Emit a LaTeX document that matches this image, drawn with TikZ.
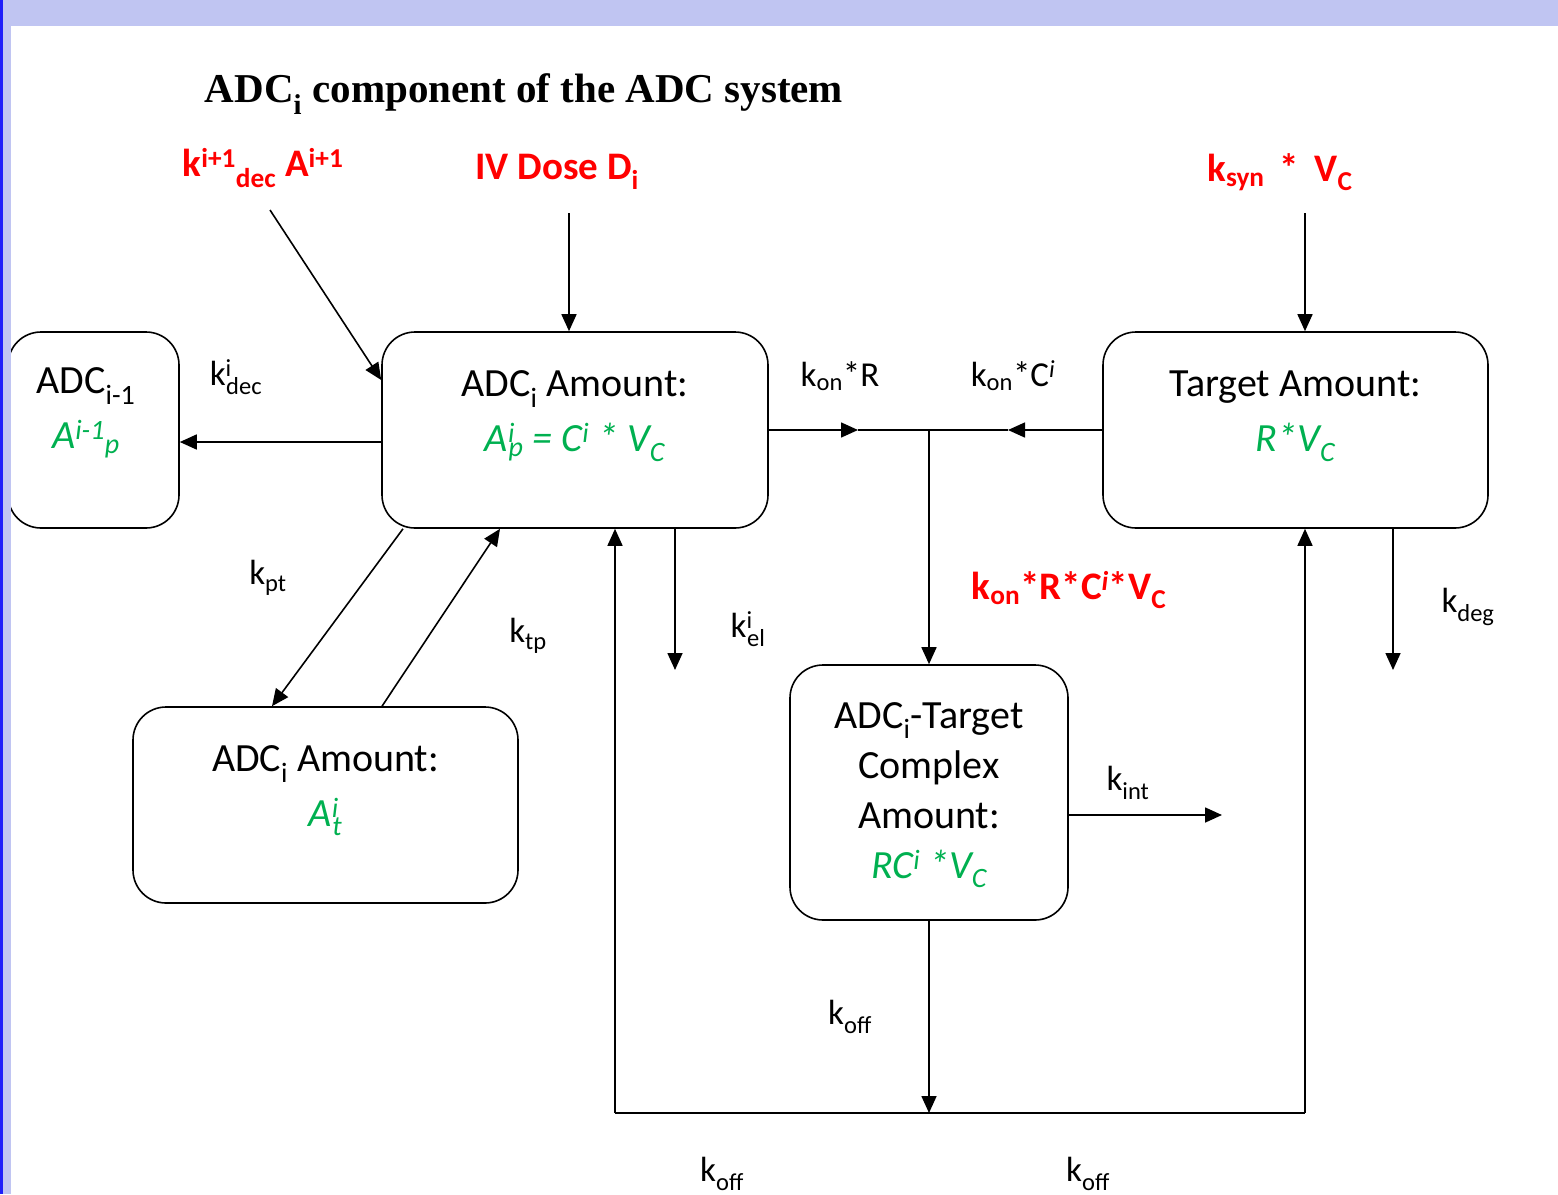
\documentclass[tikz,border=0pt]{standalone}
\usepackage{fontspec}
\setmainfont{Carlito}
\newfontfamily\titlefont{Liberation Serif}
\usetikzlibrary{arrows.meta}
\definecolor{bandlav}{RGB}{192,197,242}
\definecolor{bandblue}{RGB}{30,30,250}
\definecolor{amtgreen}{RGB}{0,176,80}
\definecolor{doser}{RGB}{255,0,0}
\newcommand\supsub[2]{\textsuperscript{\rlap{#1}}\textsubscript{#2}}
\tikzset{
  compart/.style={draw, line width=1.6pt, rounded corners=33pt, inner sep=0pt},
  flow/.style={line width=1.6pt, -{Triangle[length=17pt,width=15pt]}},
  link/.style={line width=1.6pt},
  rate/.style={font=\fontsize{35}{40}\selectfont},
  input/.style={text=doser, font=\fontsize{39}{44}\selectfont\bfseries},
  amt/.style={font=\fontsize{40}{55}\selectfont, align=center},
}
\begin{document}
\begin{tikzpicture}[x=1pt, y=-1pt]
    \useasboundingbox (0,0) rectangle (1558,1194);
    \node[font=\titlefont\fontsize{41}{50}\selectfont\bfseries] (title) at (524,94) {ADC\textsubscript{i} component of the ADC system};

    % compartments
    \node[compart, minimum width=171pt, minimum height=196pt] (prev) at (93.5,430) {};
    \node[compart, minimum width=386pt, minimum height=196pt] (main) at (575,430) {};
    \node[compart, minimum width=385pt, minimum height=196pt] (target) at (1295.5,430) {};
    \node[compart, minimum width=385pt, minimum height=196pt] (tissue) at (325.5,805) {};
    \node[compart, minimum width=278pt, minimum height=255pt] (complex) at (929,792.5) {};

    \node[amt] (prevTxt) at (86,413) {ADC\textsubscript{i-1}\\ \color{amtgreen}\itshape A\textsuperscript{i-1}\textsubscript{p}};
    \node[amt] (mainTxt) at (575,416) {ADC\textsubscript{i} Amount:\\ \color{amtgreen}\itshape A\supsub{i}{p} = C\textsuperscript{i} * V\textsubscript{C}};
    \node[amt] (targetTxt) at (1295.5,416) {Target Amount:\\ \color{amtgreen}\itshape R*V\textsubscript{C}};
    \node[amt] (tissueTxt) at (325.5,791) {ADC\textsubscript{i} Amount:\\ \color{amtgreen}\itshape A\supsub{i}{t}};
    \node[amt, font=\fontsize{40}{50}\selectfont] (complexTxt) at (929,795) {ADC\textsubscript{i}-Target\\Complex\\Amount:\\ \color{amtgreen}\itshape RC\textsuperscript{i} *V\textsubscript{C}};

    % inputs
    \node[input] (decIn) at (263,168) {k\textsuperscript{i+1}\textsubscript{dec} A\textsuperscript{i+1}};
    \node[input] (dose) at (557,172) {IV Dose D\textsubscript{i}};
    \node[input] (syn) at (1280,172) {k\textsubscript{syn} \,*\, V\textsubscript{C}};
    \node[input] (bind) at (1069,590) {k\textsubscript{on}*R*C\textsuperscript{\itshape i}*V\textsubscript{C}};
    \coordinate (decSrc) at (270,210);
    \coordinate (doseSrc) at (569,213);
    \coordinate (synSrc) at (1305,213);
    \draw[flow] (decSrc) -- ([yshift=50pt]main.west);
    \draw[flow] (doseSrc) -- (doseSrc |- main.north);
    \draw[flow] (synSrc) -- (synSrc |- target.north);

    % decay to previous
    \draw[flow] ([yshift=-12pt]main.west) -- ([yshift=-12pt]prev.east);
    \node[rate] (kdec) at (236,377) {k\supsub{i}{dec}};

    % binding
    \coordinate (junc) at (complex.north |- main.east);
    \coordinate (onR) at (858,430);
    \coordinate (onC) at (1008,430);
    \draw[flow] (main.east) -- (onR);
    \draw[link] (onR) -- (onC);
    \draw[flow] (target.west) -- (onC);
    \draw[flow] (junc) -- (complex.north);
    \node[rate] (konR) at (840,376) {k\textsubscript{on}*R};
    \node[rate] (konC) at (1013,376) {k\textsubscript{on}*C\textsuperscript{\itshape i}};

    % distribution
    \draw[flow] ([xshift=-172pt]main.south) -- ([xshift=-53.5pt]tissue.north);
    \draw[flow] ([xshift=56.5pt]tissue.north) -- ([xshift=-75pt]main.south);
    \node[rate] (kpt) at (268,578) {k\textsubscript{pt}};
    \node[rate] (ktp) at (528,636) {k\textsubscript{tp}};

    % elimination
    \coordinate (elOut) at (675,670);
    \draw[flow] (elOut |- main.south) -- (elOut);
    \node[rate] (kel) at (748,629) {k\supsub{i}{el}};
    \coordinate (degOut) at (1393,670);
    \draw[flow] (degOut |- target.south) -- (degOut);
    \node[rate] (kdeg) at (1468,607) {k\textsubscript{deg}};
    \coordinate (intOut) at (1222,815);
    \draw[flow] (complex.east |- intOut) -- (intOut);
    \node[rate] (kint) at (1128,783) {k\textsubscript{int}};

    % dissociation
    \coordinate (loopL) at (615,1113);
    \coordinate (loopR) at (1305,1113);
    \draw[flow] (complex.south) -- (complex.south |- loopL);
    \draw[link] (loopL) -- (loopR);
    \draw[flow] (loopL) -- (loopL |- main.south);
    \draw[flow] (loopR) -- (loopR |- target.south);
    \node[rate] (koff) at (850,1017) {k\textsubscript{off}};
    \node[rate] (koffL) at (722,1174) {k\textsubscript{off}};
    \node[rate] (koffR) at (1088,1174) {k\textsubscript{off}};

    % slide frame
    \fill[bandlav] (0,0) rectangle (1558,26);
    \fill[bandlav] (0,0) rectangle (11,1194);
    \fill[bandblue] (0,0) rectangle (2.5,1194);
\end{tikzpicture}
\end{document}
